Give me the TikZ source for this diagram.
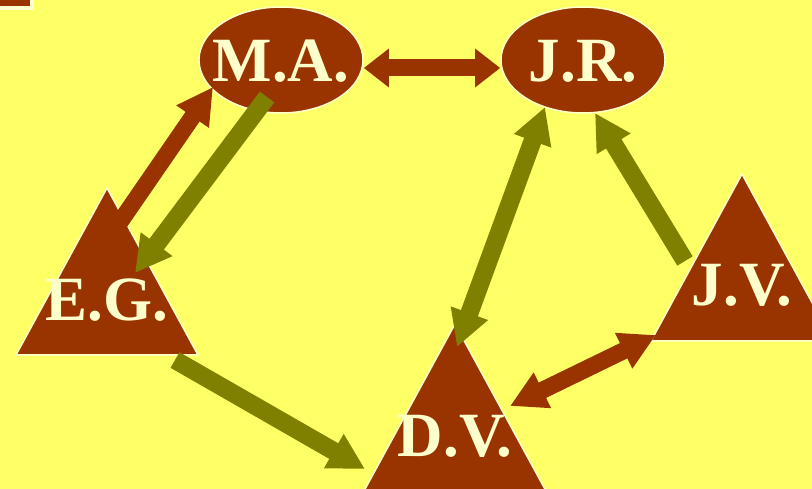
\documentclass[tikz,border=0pt]{standalone}
\usepackage{fontspec}
\setmainfont{Liberation Serif}
\usetikzlibrary{arrows.meta}
\usetikzlibrary{shapes, backgrounds}
\definecolor{rust}{HTML}{993300}
\definecolor{moss}{HTML}{808000}
\definecolor{paper}{HTML}{FFFF66}
\definecolor{cream}{HTML}{FFFFCC}
\tikzset{
  big/.tip={Triangle[length=36pt,width=37pt]},
  flat/.tip={Triangle[length=25pt,width=37pt]},
  initials/.style={text=cream,inner sep=0pt,text height=44pt,text depth=0pt,
    font=\bfseries\fontsize{63}{63}\selectfont},
  person/.style={initials,ellipse,fill=rust,draw=cream,line width=1.5pt,
    minimum width=164pt,minimum height=106pt,
    execute at begin node={\hbox to 116pt\bgroup\hss},
    execute at end node={\hss\egroup}},
  tri/.style={fill=rust,draw=cream,line width=1.5pt},
  rustline/.style={rust,line width=17pt},
  mossline/.style={moss,line width=18pt},
}
\begin{document}
\begin{tikzpicture}[x=1pt,y=-1pt,line join=miter,]
\useasboundingbox (0,0) rectangle (812,489);
%%
\node (node_ma) at (281,60) [person] {M.A.};
\node (node_jr) at (583,60) [person] {J.R.};
\node (node_eg) at (107,298) [initials] {E.G.};
\node (node_dv) at (455,434) [initials] {D.V.};
\node (node_jv) at (742,284) [initials] {J.V.};
%
\begin{scope}[on background layer]
  \fill [paper] (0,0) rectangle (812,489);
  \draw [tri,line width=4pt] (-10,-10) rectangle (32,8);
  \foreach \n in {node_eg,node_dv,node_jv}
    \draw [tri] (\n.center) ++(0,-110) -- ++(91,167) -- ++(-182,0) -- cycle;
\end{scope}
%
\draw [rustline,flat-flat] ([yshift=-8pt]node_ma.east) -- ([yshift=-8pt]node_jr.west);
\draw [rustline,-big] ([shift={(11,-73)}]node_eg.center) -- ([shift={(-68,27)}]node_ma.center);
\draw [mossline,-big] ([shift={(-14,37)}]node_ma.center) -- ([shift={(28,-25)}]node_eg.center);
\draw [mossline,-big] ([shift={(68,62)}]node_eg.center) -- ([shift={(-90,35)}]node_dv.center);
\draw [mossline,big-big] ([shift={(-38,47)}]node_jr.center) -- ([shift={(2,-87)}]node_dv.center);
\draw [mossline,-big] ([shift={(-57,-23)}]node_jv.center) -- ([shift={(12,53)}]node_jr.center);
\draw [rustline,big-big] ([shift={(55,-28)}]node_dv.center) -- ([shift={(-86,51)}]node_jv.center);
%
\end{tikzpicture}
\end{document}
